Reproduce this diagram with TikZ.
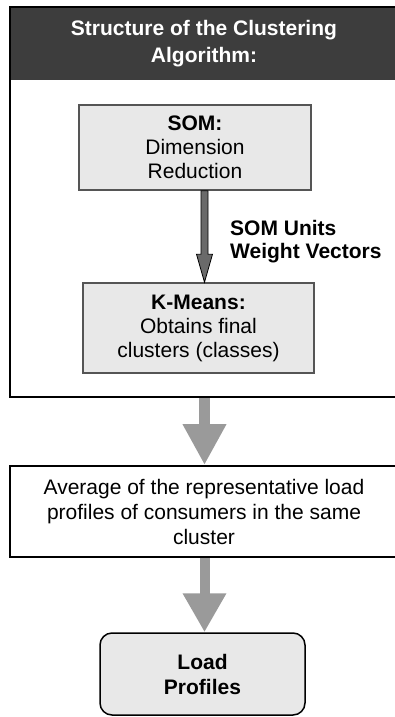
\documentclass[tikz,border=0pt]{standalone}
\usepackage{fontspec}
\setmainfont{Liberation Sans}
\usetikzlibrary{arrows.meta,calc}
\definecolor{headgray}{HTML}{3D3D3D}
\definecolor{boxgray}{HTML}{E8E8E8}
\definecolor{edgegray}{HTML}{555555}
\definecolor{arrowgray}{HTML}{9A9A9A}
\definecolor{darkarrow}{HTML}{6A6A6A}
\begin{document}
\begin{tikzpicture}[x=1pt, y=-1pt,
  every node/.style={font=\fontsize{21}{25}\selectfont, align=center, inner sep=0pt},
  stepbox/.style={draw=edgegray, line width=1.5pt, fill=boxgray},
  bigarrow/.style={draw=arrowgray, fill=arrowgray, line width=#1},
  bigarrow/.default=11pt]
\useasboundingbox (0,0) rectangle (394,717);
\coordinate (axis) at (204.5,0);
\node[draw, line width=2pt, minimum width=388pt, minimum height=390pt] (outer) at (204,202) {};
\node[fill=headgray, text=white, font=\bfseries\fontsize{21}{27}\selectfont, minimum width=387pt, minimum height=72pt] (head) at (204,44) {Structure of the Clustering\\Algorithm:};
\draw[line width=2pt] (10,7) -- (398,7);
\node[stepbox, minimum width=232pt, minimum height=85pt] (som) at (195,147.5) {\textbf{SOM:}\\[-1pt]Dimension\\[-1pt]Reduction};
\node[stepbox, minimum width=231pt, minimum height=90pt] (km) at (198.5,328) {\textbf{K-Means:}\\[-1pt]Obtains final\\[-1pt]clusters (classes)};
\node[anchor=west, align=left, font=\bfseries\fontsize{21}{23}\selectfont] (somlabel) at (230,241.5) {SOM Units\\Weight Vectors};
\node[draw, line width=2pt, minimum width=388pt, minimum height=91pt] (avg) at (204,511.5) {Average of the representative load\\profiles of consumers in the same\\cluster};
\node[draw, line width=1.5pt, fill=boxgray, rounded corners=12pt, minimum width=205pt, minimum height=82pt] (lp) at (202.5,674) {\textbf{Load}\\\textbf{Profiles}};
\draw[fill=darkarrow, line width=0.8pt, line join=miter]
  ($(som.south -| axis)+(-3.5,0)$) -- ($(km.north -| axis)+(-3.5,-28)$) -- ++(-4.5,0)
  -- (km.north -| axis) -- ($(km.north -| axis)+(8,-28)$) -- ++(-4.5,0)
  -- ($(som.south -| axis)+(3.5,0)$) -- cycle;
\draw[bigarrow=11pt, -{Triangle[length=41pt, width=41pt]}] (outer.south -| axis) -- (avg.north -| axis);
\draw[bigarrow=10pt, -{Triangle[length=39pt, width=41pt]}] (avg.south -| axis) -- (lp.north -| axis);
\end{tikzpicture}
\end{document}
